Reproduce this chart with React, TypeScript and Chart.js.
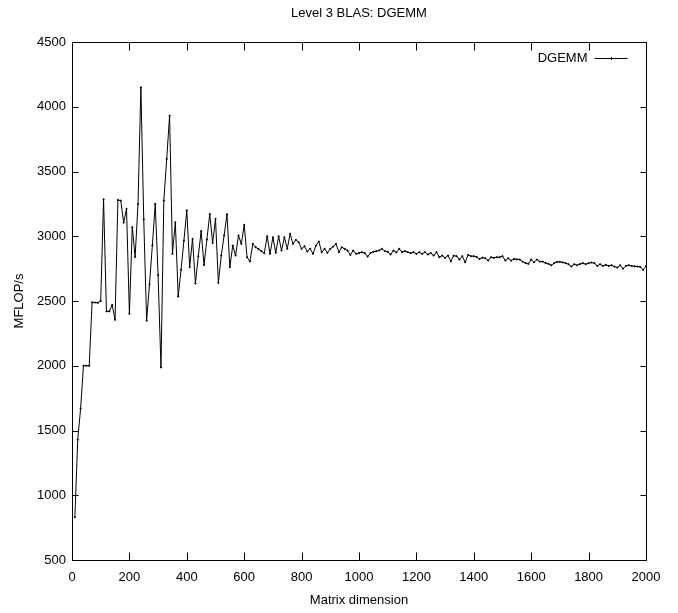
import React, { useEffect, useRef } from "react";
import { Chart, registerables } from "chart.js";

Chart.register(...registerables);

const titleText = "Level 3 BLAS: DGEMM";
const xAxisLabel = "Matrix dimension";
const yAxisLabel = "MFLOP/s";
const seriesName = "DGEMM";

const xTicks = [0, 200, 400, 600, 800, 1000, 1200, 1400, 1600, 1800, 2000];
const yTicks = [500, 1000, 1500, 2000, 2500, 3000, 3500, 4000, 4500];

const dims = [
  10, 20, 30, 40, 50, 60, 70, 80, 90, 100, 110, 120, 130, 140, 150, 160, 170, 180, 190, 200,
  210, 220, 230, 240, 250, 260, 270, 280, 290, 300, 310, 320, 330, 340, 350, 360, 370, 380, 390, 400,
  410, 420, 430, 440, 450, 460, 470, 480, 490, 500, 510, 520, 530, 540, 550, 560, 570, 580, 590, 600,
  610, 620, 630, 640, 650, 660, 670, 680, 690, 700, 710, 720, 730, 740, 750, 760, 770, 780, 790, 800,
  810, 820, 830, 840, 850, 860, 870, 880, 890, 900, 910, 920, 930, 940, 950, 960, 970, 980, 990, 1000,
  1010, 1020, 1030, 1040, 1050, 1060, 1070, 1080, 1090, 1100, 1110, 1120, 1130, 1140, 1150, 1160, 1170, 1180, 1190, 1200,
  1210, 1220, 1230, 1240, 1250, 1260, 1270, 1280, 1290, 1300, 1310, 1320, 1330, 1340, 1350, 1360, 1370, 1380, 1390, 1400,
  1410, 1420, 1430, 1440, 1450, 1460, 1470, 1480, 1490, 1500, 1510, 1520, 1530, 1540, 1550, 1560, 1570, 1580, 1590, 1600,
  1610, 1620, 1630, 1640, 1650, 1660, 1670, 1680, 1690, 1700, 1710, 1720, 1730, 1740, 1750, 1760, 1770, 1780, 1790, 1800,
  1810, 1820, 1830, 1840, 1850, 1860, 1870, 1880, 1890, 1900, 1910, 1920, 1930, 1940, 1950, 1960, 1970, 1980, 1990, 2000,
];

// MFLOP/s, matrix dimension 10 .. 500
const mflopsSmall = [
  830, 1430, 1670, 2000, 2000, 2000, 2490, 2488, 2486, 2500,
  3285, 2420, 2420, 2470, 2355, 3280, 3275, 3105, 3212, 2402,
  3070, 2840, 3248, 4150, 3130, 2348, 2630, 2930, 3250, 2700,
  1987, 3275, 3597, 3931, 2864, 3108, 2535, 2741, 2967, 3200,
  2761, 2980, 2635, 2845, 3040, 2778, 2975, 3172, 2948, 3134,
];
// 510 .. 1000
const mflopsMedium = [
  2640, 2851, 3006, 3170, 2761, 2928, 2851, 3006, 2941, 3088,
  2838, 2805, 2941, 2915, 2900, 2885, 2869, 3000, 2864, 2992,
  2872, 3000, 2890, 2992, 2903, 3019, 2941, 2972, 2954, 2903,
  2923, 2882, 2903, 2864, 2928, 2959, 2877, 2903, 2872, 2903,
  2920, 2941, 2877, 2915, 2903, 2890, 2856, 2890, 2864, 2870,
];
// 1010 .. 1500
const mflopsLarge = [
  2877, 2870, 2843, 2870, 2880, 2885, 2890, 2903, 2885, 2880,
  2859, 2890, 2875, 2903, 2877, 2885, 2877, 2870, 2877, 2864,
  2877, 2864, 2877, 2859, 2870, 2851, 2877, 2838, 2851, 2833,
  2851, 2807, 2850, 2846, 2820, 2846, 2799, 2856, 2846, 2846,
  2840, 2825, 2835, 2830, 2812, 2838, 2833, 2838, 2838, 2846,
];
// 1510 .. 2000
const mflopsHuge = [
  2812, 2830, 2812, 2825, 2822, 2820, 2804, 2794, 2787, 2820,
  2799, 2820, 2804, 2804, 2794, 2787, 2776, 2792, 2802, 2802,
  2798, 2792, 2784, 2766, 2784, 2776, 2785, 2792, 2784, 2792,
  2797, 2792, 2771, 2784, 2771, 2779, 2771, 2776, 2766, 2758,
  2776, 2750, 2771, 2776, 2771, 2768, 2766, 2763, 2740, 2771,
];

const mflops = [...mflopsSmall, ...mflopsMedium, ...mflopsLarge, ...mflopsHuge];

const FONT_FAMILY = "'Liberation Sans', Arial, sans-serif";
const FONT_SIZE = 13;

const framePlugin = {
  id: "gnuFrame",
  afterDraw(chart: any) {
    const { ctx, chartArea } = chart;
    const { left, right, top, bottom } = chartArea;
    const xs = chart.scales.x;
    const ys = chart.scales.y;
    ctx.save();
    ctx.strokeStyle = "#000";
    ctx.lineWidth = 1;
    const L = Math.round(left) + 0.5;
    const R = Math.round(right) + 0.5;
    const T = Math.round(top) + 0.5;
    const B = Math.round(bottom) + 0.5;
    ctx.beginPath();
    ctx.rect(L, T, R - L, B - T);
    ctx.stroke();
    ctx.beginPath();
    xTicks.forEach((v) => {
      const px = Math.round(xs.getPixelForValue(v)) + 0.5;
      ctx.moveTo(px, B);
      ctx.lineTo(px, B - 8);
      ctx.moveTo(px, T);
      ctx.lineTo(px, T + 8);
    });
    yTicks.forEach((v) => {
      const py = Math.round(ys.getPixelForValue(v)) + 0.5;
      ctx.moveTo(L, py);
      ctx.lineTo(L + 6, py);
      ctx.moveTo(R, py);
      ctx.lineTo(R - 6, py);
    });
    ctx.stroke();

    // key (legend) in the upper right corner, gnuplot style
    const ky = Math.round(ys.getPixelForValue(4500)) + 16.5;
    const kx1 = R - 52;
    const kx2 = R - 19;
    ctx.font = `${FONT_SIZE}px ${FONT_FAMILY}`;
    ctx.fillStyle = "#000";
    ctx.textAlign = "right";
    ctx.textBaseline = "middle";
    ctx.fillText(seriesName, kx1 - 7, ky);
    ctx.beginPath();
    ctx.moveTo(kx1, ky);
    ctx.lineTo(kx2, ky);
    const mid = Math.round((kx1 + kx2) / 2) + 0.5;
    ctx.moveTo(mid, ky - 1.5);
    ctx.lineTo(mid, ky + 1.5);
    ctx.stroke();
    ctx.restore();
  },
};

export default function App() {
  const canvasRef = useRef<HTMLCanvasElement | null>(null);

  useEffect(() => {
    const canvas = canvasRef.current;
    if (!canvas) return;
    const font = { family: FONT_FAMILY, size: FONT_SIZE, weight: "normal" as const };
    const chart = new Chart(canvas, {
      type: "line",
      data: {
        datasets: [
          {
            label: seriesName,
            data: dims.map((d, i) => ({ x: d, y: mflops[i] })),
            borderColor: "#000",
            backgroundColor: "#000",
            borderWidth: 1,
            pointStyle: "cross",
            pointRadius: 1,
            pointBorderWidth: 1,
            pointBorderColor: "#000",
            tension: 0,
            fill: false,
          },
        ],
      },
      plugins: [framePlugin],
      options: {
        animation: false,
        responsive: false,
        devicePixelRatio: 1,
        layout: { padding: { left: 0, right: 32, top: 0, bottom: 0 } },
        plugins: {
          legend: { display: false },
          tooltip: { enabled: false },
          title: {
            display: true,
            text: titleText,
            color: "#000",
            font,
            fullSize: false,
            padding: { top: 6, bottom: 20.4 },
          },
        },
        scales: {
          x: {
            type: "linear",
            min: 0,
            max: 2000,
            afterFit: (s: any) => {
              s.height = 53;
            },
            afterBuildTicks: (s: any) => {
              s.ticks = xTicks.map((v) => ({ value: v }));
            },
            grid: { display: false, drawTicks: false },
            border: { display: false },
            ticks: {
              color: "#000",
              font,
              padding: 10,
              maxRotation: 0,
              autoSkip: false,
              callback: (v: any) => String(v),
            },
            title: {
              display: true,
              text: xAxisLabel,
              color: "#000",
              font,
              padding: { top: 0, bottom: 5 },
            },
          },
          y: {
            type: "linear",
            min: 500,
            max: 4500,
            afterFit: (s: any) => {
              s.width = 72;
            },
            afterBuildTicks: (s: any) => {
              s.ticks = yTicks.map((v) => ({ value: v }));
            },
            grid: { display: false, drawTicks: false },
            border: { display: false },
            ticks: {
              color: "#000",
              font,
              padding: 6,
              autoSkip: false,
              callback: (v: any) => String(v),
            },
            title: {
              display: true,
              text: yAxisLabel,
              color: "#000",
              font,
              padding: { top: 12, bottom: 0 },
            },
          },
        },
      },
    });
    return () => chart.destroy();
  }, []);

  return (
    <div style={{ position: "absolute", left: 0, top: 0, width: 678, height: 613, background: "#fff" }}>
      <canvas ref={canvasRef} width={678} height={613} style={{ width: 678, height: 613, display: "block" }} />
    </div>
  );
}
